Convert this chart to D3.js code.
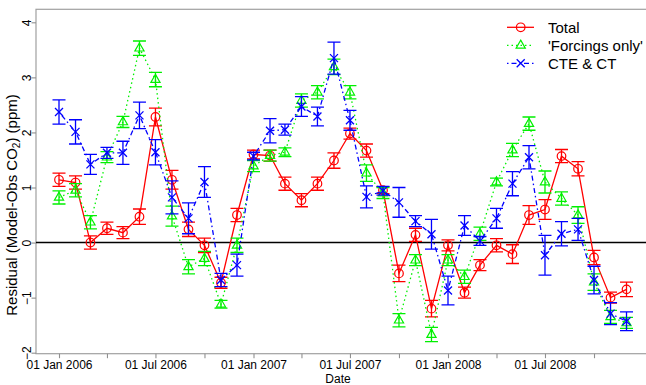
<!DOCTYPE html>
<html>
<head>
<meta charset="utf-8">
<script src="https://cdn.jsdelivr.net/npm/d3@7"></script>
<style>
  body { margin: 0; background: #fff; }
  svg { display: block; font-family: "Liberation Sans", Arial, Helvetica, sans-serif; }
</style>
</head>
<body>
<div id="graph"></div>
<script>
// monthly residuals, first of each month
const months = [
  "2006-01-01", "2006-02-01", "2006-03-01", "2006-04-01", "2006-05-01", "2006-06-01",
  "2006-07-01", "2006-08-01", "2006-09-01", "2006-10-01", "2006-11-01", "2006-12-01",
  "2007-01-01", "2007-02-01", "2007-03-01", "2007-04-01", "2007-05-01", "2007-06-01",
  "2007-07-01", "2007-08-01", "2007-09-01", "2007-10-01", "2007-11-01", "2007-12-01",
  "2008-01-01", "2008-02-01", "2008-03-01", "2008-04-01", "2008-05-01", "2008-06-01",
  "2008-07-01", "2008-08-01", "2008-09-01", "2008-10-01", "2008-11-01", "2008-12-01"
];

const total = [1.14, 1.09, 0.0, 0.26, 0.18, 0.47, 2.28, 1.14, 0.24, -0.05, -0.73, 0.5,
  1.6, 1.58, 1.07, 0.77, 1.07, 1.49, 1.98, 1.67, 0.95, -0.56, 0.14, -1.2,
  -0.05, -0.91, -0.41, -0.05, -0.21, 0.5, 0.6, 1.57, 1.34, -0.27, -1.0, -0.85];
const totalErr = [0.12, 0.12, 0.12, 0.11, 0.11, 0.14, 0.16, 0.17, 0.13, 0.13, 0.1, 0.12,
  0.08, 0.1, 0.12, 0.12, 0.12, 0.14, 0.1, 0.12, 0.06, 0.15, 0.12, 0.15,
  0.1, 0.1, 0.1, 0.12, 0.17, 0.17, 0.18, 0.12, 0.13, 0.13, 0.1, 0.13];

const forcings = [0.82, 0.95, 0.37, 1.55, 2.19, 3.53, 2.96, 0.48, -0.44, -0.29, -1.12, -0.05,
  1.39, 1.58, 1.64, 2.58, 2.73, 3.19, 2.73, 1.26, 0.9, -1.41, -0.32, -1.67,
  -0.32, -0.62, 0.16, 1.1, 1.68, 2.16, 1.1, 0.8, 0.5, -0.72, -1.35, -1.46];
const forcingsErr = [0.12, 0.12, 0.12, 0.1, 0.1, 0.13, 0.13, 0.18, 0.13, 0.13, 0.07, 0.13,
  0.1, 0.1, 0.08, 0.12, 0.12, 0.14, 0.12, 0.15, 0.1, 0.12, 0.1, 0.13,
  0.1, 0.12, 0.12, 0.07, 0.12, 0.12, 0.2, 0.12, 0.15, 0.15, 0.12, 0.1];

const cte = [2.37, 2.01, 1.42, 1.63, 1.63, 2.31, 1.64, 0.82, 0.44, 1.1, -0.68, -0.41,
  1.57, 2.03, 2.05, 2.47, 2.29, 3.35, 2.22, 0.83, 0.94, 0.73, 0.39, 0.15,
  -0.87, 0.31, 0.03, 0.44, 1.07, 1.55, -0.23, 0.16, 0.24, -0.68, -1.29, -1.43];
const cteErr = [0.22, 0.22, 0.18, 0.1, 0.21, 0.24, 0.23, 0.3, 0.28, 0.28, 0.12, 0.2,
  0.07, 0.22, 0.1, 0.18, 0.17, 0.29, 0.18, 0.2, 0.08, 0.27, 0.1, 0.27,
  0.26, 0.18, 0.08, 0.18, 0.22, 0.21, 0.36, 0.22, 0.2, 0.25, 0.2, 0.17];

const yTicks = [-2, -1, 0, 1, 2, 3, 4];
const xTicks = [
  "2006-01-01", "2006-04-01", "2006-07-01", "2006-10-01",
  "2007-01-01", "2007-04-01", "2007-07-01", "2007-10-01",
  "2008-01-01", "2008-04-01", "2008-07-01", "2008-10-01"
];

const W = 646, H = 385;
const box = { left: 36, top: 9.3, right: 660, bottom: 353.7 };
const parse = d3.utcParse("%Y-%m-%d");

const x = d3.scaleUtc()
  .domain([parse("2006-01-01"), parse("2008-01-01")])
  .range([59, 448]);
const y = d3.scaleLinear().domain([-2, 4]).range([352.7, 22.3]);

const svg = d3.select("#graph").append("svg")
  .attr("width", W).attr("height", H);

// frame
svg.append("rect")
  .attr("x", box.left).attr("y", box.top)
  .attr("width", box.right - box.left).attr("height", box.bottom - box.top)
  .attr("fill", "none").attr("stroke", "#a0a0a0").attr("stroke-width", 1.2);

// x axis
const fmt = d3.utcFormat("%d %b %Y");
const xAxis = svg.append("g")
  .attr("transform", "translate(0," + box.bottom + ")")
  .call(d3.axisBottom(x)
    .tickValues(xTicks.map(parse))
    .tickSize(4.5)
    .tickFormat((d) => (d.getUTCMonth() % 6 === 0 ? fmt(d) : "")));
xAxis.select(".domain").remove();
xAxis.selectAll(".tick line").attr("stroke", "#909090").attr("stroke-width", 1.1);
xAxis.selectAll(".tick text")
  .attr("y", 6.5).attr("font-size", 12).attr("fill", "#000")
  .attr("font-family", "Liberation Sans, Arial, sans-serif");

// y axis
const yAxis = svg.append("g")
  .attr("transform", "translate(" + box.left + ",0)")
  .call(d3.axisLeft(y).tickValues(yTicks).tickSize(4.5).tickFormat(d3.format("d")));
yAxis.select(".domain").remove();
yAxis.selectAll(".tick line").attr("stroke", "#909090").attr("stroke-width", 1.1);
yAxis.selectAll(".tick text")
  .attr("x", null).attr("dy", null)
  .attr("text-anchor", "middle")
  .attr("transform", "translate(-5.5,0) rotate(-90)")
  .attr("font-size", 12).attr("fill", "#000")
  .attr("font-family", "Liberation Sans, Arial, sans-serif");

// axis titles
svg.append("text")
  .attr("x", 338).attr("y", 383)
  .attr("text-anchor", "middle").attr("font-size", 12)
  .text("Date");

const ylab = svg.append("text")
  .attr("transform", "translate(17,205) rotate(-90)")
  .attr("text-anchor", "middle").attr("font-size", 15);
ylab.append("tspan").text("Residual (Model-Obs CO");
ylab.append("tspan").attr("font-size", 10).attr("dy", 3).text("2");
ylab.append("tspan").attr("dy", -3).text(") (ppm)");

// zero line
svg.append("line")
  .attr("x1", box.left).attr("x2", W)
  .attr("y1", y(0)).attr("y2", y(0))
  .attr("stroke", "#000").attr("stroke-width", 1.5);

const series = [
  { name: "Total", values: total, err: totalErr, color: "#ff0000", dash: null, marker: "circle" },
  { name: "'Forcings only'", values: forcings, err: forcingsErr, color: "#00f000", dash: "1.5,3", marker: "triangle" },
  { name: "CTE & CT", values: cte, err: cteErr, color: "#0000ff", dash: "1.5,3,5,3", marker: "cross" }
];

const drawMarker = (g, kind, color) => {
  if (kind === "circle") {
    g.append("circle").attr("r", 4.3)
      .attr("fill", "none").attr("stroke", color).attr("stroke-width", 1.2);
  } else if (kind === "triangle") {
    g.append("path").attr("d", "M0,-5.2L4.6,2.8L-4.6,2.8Z")
      .attr("fill", "none").attr("stroke", color).attr("stroke-width", 1.2);
  } else {
    g.append("path").attr("d", "M-4,-4L4,4M-4,4L4,-4")
      .attr("fill", "none").attr("stroke", color).attr("stroke-width", 1.3);
  }
};

const capW = 6.5;
series.forEach((s) => {
  const pts = s.values.map((v, i) => ({ date: parse(months[i]), v, e: s.err[i] }));
  const g = svg.append("g");

  const line = d3.line().x((d) => x(d.date)).y((d) => y(d.v));
  g.append("path").datum(pts)
    .attr("d", line)
    .attr("fill", "none").attr("stroke", s.color).attr("stroke-width", 1.3)
    .attr("stroke-dasharray", s.dash);

  g.selectAll(".eb").data(pts).enter().append("path")
    .attr("class", "eb")
    .attr("d", (d) => {
      const cx = x(d.date), y0 = y(d.v - d.e), y1 = y(d.v + d.e);
      return "M" + cx + "," + y0 + "L" + cx + "," + y1 +
        "M" + (cx - capW) + "," + y0 + "L" + (cx + capW) + "," + y0 +
        "M" + (cx - capW) + "," + y1 + "L" + (cx + capW) + "," + y1;
    })
    .attr("fill", "none").attr("stroke", s.color).attr("stroke-width", 1.3);

  g.selectAll(".mk").data(pts).enter().append("g")
    .attr("class", "mk")
    .attr("transform", (d) => "translate(" + x(d.date) + "," + y(d.v) + ")")
    .each(function () { drawMarker(d3.select(this), s.marker, s.color); });
});

// legend
const legend = svg.append("g");
series.forEach((s, i) => {
  const ly = 27.3 + i * 18;
  legend.append("line")
    .attr("x1", 507).attr("x2", 534).attr("y1", ly).attr("y2", ly)
    .attr("stroke", s.color).attr("stroke-width", 1.3)
    .attr("stroke-dasharray", s.dash);
  drawMarker(legend.append("g").attr("transform", "translate(520.7," + ly + ")"), s.marker, s.color);
  legend.append("text")
    .attr("x", 548).attr("y", ly + 5.8)
    .attr("font-size", 15)
    .text(s.name);
});
</script>
</body>
</html>
